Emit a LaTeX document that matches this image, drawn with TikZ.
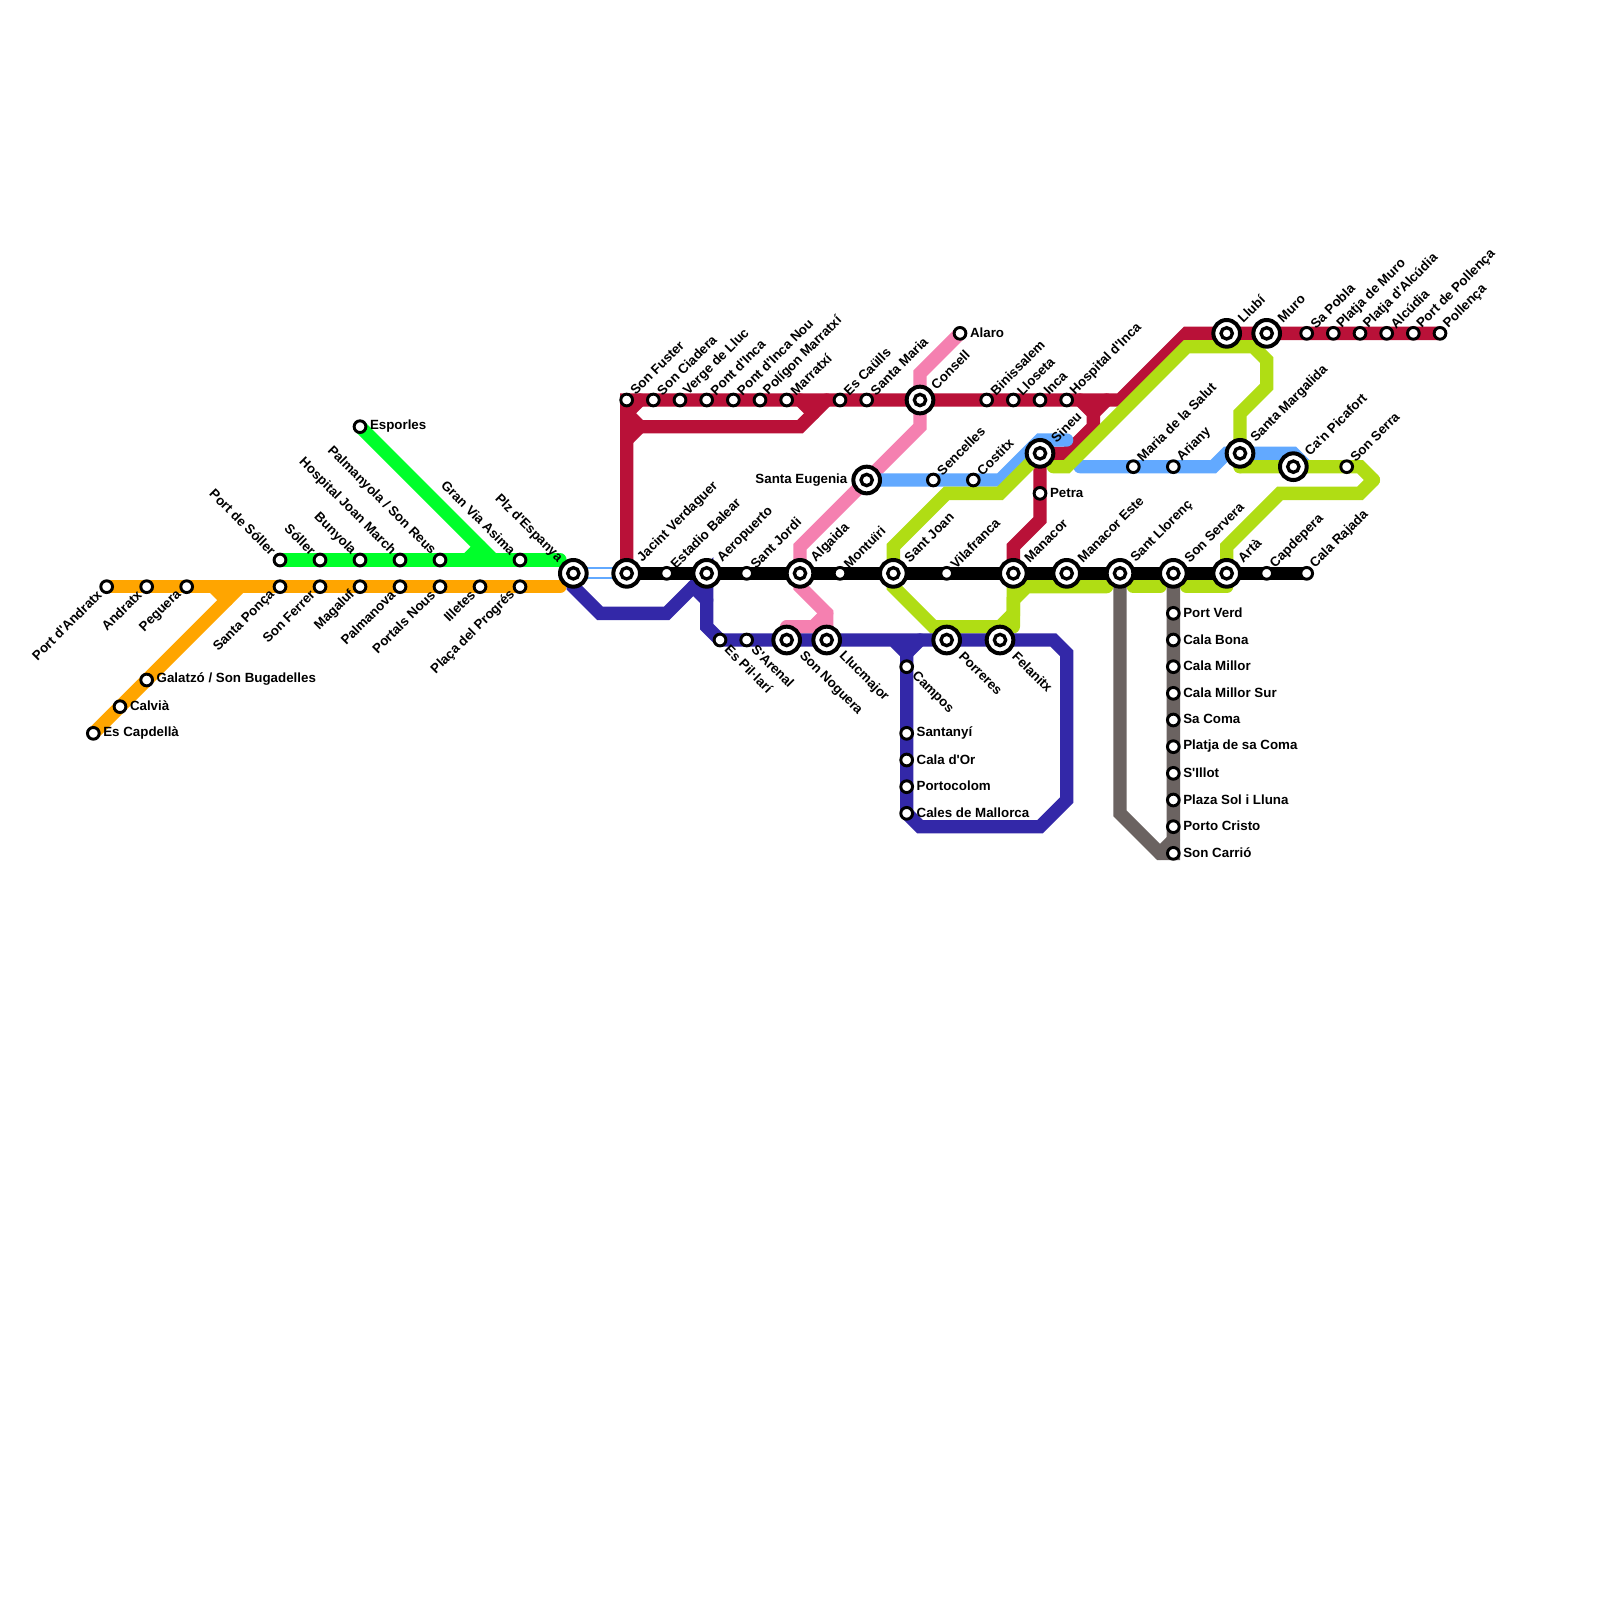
\documentclass[tikz,border=0pt]{standalone}
\usepackage{fontspec}
\newfontfamily\mapf{Liberation Sans}
\pgfdeclarelayer{bg}
\pgfsetlayers{bg,main}
\tikzset{
  stn/.style={circle,draw=black,fill=white,line width=2.2pt,minimum size=8.8pt,inner sep=0pt,outer sep=0pt},
  bigr/.style={circle,draw=black,fill=white,line width=3pt,minimum size=20pt,inner sep=0pt,outer sep=0pt},
  bigc/.style={circle,draw=black,fill=white,line width=2.5pt,minimum size=8.5pt,inner sep=0pt,outer sep=0pt},
  txt/.style={inner sep=0pt,outer sep=0pt,font=\mapf\bfseries\fontsize{10}{11}\selectfont,text=black},
  lne/.style={shift={(0.45,-0.55)},rotate=45,anchor=west},
  lnw/.style={shift={(-0.5,-0.55)},rotate=-45,anchor=east},
  lse/.style={shift={(0.55,0.55)},rotate=-45,anchor=west},
  lsw/.style={shift={(-0.55,0.45)},rotate=45,anchor=east},
  lea/.style={shift={(0.75,-0.05)},anchor=west},
  lwe/.style={shift={(-0.8,0)},anchor=east},
  Lne/.style={shift={(1.0,-1.0)},rotate=45,anchor=west},
  Lnw/.style={shift={(-1.0,-1.0)},rotate=-45,anchor=east},
  Lse/.style={shift={(1.1,1.05)},rotate=-45,anchor=west},
  Lwe/.style={shift={(-1.45,0)},anchor=east},
  ln/.style={line width=10pt,line join=miter,miter limit=10,line cap=round},
}
\definecolor{cOrange}{HTML}{FFA500}
\definecolor{cGreen}{HTML}{00FF2A}
\definecolor{cNavy}{HTML}{3328A8}
\definecolor{cRed}{HTML}{B91138}
\definecolor{cOlive}{HTML}{B0DD14}
\definecolor{cPink}{HTML}{F580B0}
\definecolor{cSky}{HTML}{62A9FF}
\definecolor{cGrey}{HTML}{6B6361}
\newcommand{\ST}[5]{\node[stn] (#1) at (#2,#3) {}; \node[txt,#4] (#1-t) at (#1) {#5};}
\newcommand{\IC}[5]{\node[bigr] (#1) at (#2,#3) {}; \node[bigc] (#1-c) at (#1) {}; \node[txt,#4] (#1-t) at (#1) {#5};}
\begin{document}
\begin{tikzpicture}[x=10pt,y=-10pt]
\useasboundingbox (0,0) rectangle (120,120);
% west: orange
\ST{pand}{8}{44}{lsw}{Port d'Andratx}
\ST{andr}{11}{44}{lsw}{Andratx}
\ST{pegu}{14}{44}{lsw}{Peguera}
\ST{spon}{21}{44}{lsw}{Santa Ponça}
\ST{sfer}{24}{44}{lsw}{Son Ferrer}
\ST{maga}{27}{44}{lsw}{Magaluf}
\ST{pnov}{30}{44}{lsw}{Palmanova}
\ST{pnou}{33}{44}{lsw}{Portals Nous}
\ST{ille}{36}{44}{lsw}{Illetes}
\ST{prog}{39}{44}{lsw}{Plaça del Progrés}
\ST{gala}{11}{51}{lea}{Galatzó / Son Bugadelles}
\ST{calv}{9}{53}{lea}{Calvià}
\ST{capd}{7}{55}{lea}{Es Capdellà}
% west: green
\ST{psol}{21}{42}{lnw}{Port de Sóller}
\ST{soll}{24}{42}{lnw}{Sóller}
\ST{buny}{27}{42}{lnw}{Bunyola}
\ST{hjma}{30}{42}{lnw}{Hospital Joan March}
\ST{palm}{33}{42}{lnw}{Palmanyola / Son Reus}
\ST{gvia}{39}{42}{lnw}{Gran Via Asima}
\ST{espo}{27}{32}{lea}{Esporles}
\IC{plz}{43}{43}{Lnw}{Plz d'Espanya}
% red top
\ST{sfus}{47}{30}{lne}{Son Fuster}
\ST{scia}{49}{30}{lne}{Son Ciadera}
\ST{vllu}{51}{30}{lne}{Verge de Lluc}
\ST{pinc}{53}{30}{lne}{Pont d'Inca}
\ST{pnin}{55}{30}{lne}{Pont d'Inca Nou}
\ST{pmar}{57}{30}{lne}{Polígon Marratxí}
\ST{marr}{59}{30}{lne}{Marratxí}
\ST{ecau}{63}{30}{lne}{Es Caülls}
\ST{smar}{65}{30}{lne}{Santa Maria}
\IC{cons}{69}{30}{Lne}{Consell}
\ST{bini}{74}{30}{lne}{Binissalem}
\ST{llos}{76}{30}{lne}{Lloseta}
\ST{inca}{78}{30}{lne}{Inca}
\ST{hinc}{80}{30}{lne}{Hospital d'Inca}
\ST{alar}{72}{25}{lea}{Alaro}
\IC{seug}{65}{36}{Lwe}{Santa Eugenia}
\ST{senc}{70}{36}{lne}{Sencelles}
\ST{cost}{73}{36}{lne}{Costitx}
\IC{sine}{78}{34}{Lne}{Sineu}
\ST{petr}{78}{37}{lea}{Petra}
\ST{msal}{85}{35}{lne}{Maria de la Salut}
\ST{aria}{88}{35}{lne}{Ariany}
\IC{smag}{93}{34}{Lne}{Santa Margalida}
\IC{cpic}{97}{35}{Lne}{Ca'n Picafort}
\ST{sser}{101}{35}{lne}{Son Serra}
\IC{llub}{92}{25}{Lne}{Llubí}
\IC{muro}{95}{25}{Lne}{Muro}
\ST{spob}{98}{25}{lne}{Sa Pobla}
\ST{pmur}{100}{25}{lne}{Platja de Muro}
\ST{palc}{102}{25}{lne}{Platja d'Alcúdia}
\ST{alcu}{104}{25}{lne}{Alcúdia}
\ST{ppol}{106}{25}{lne}{Port de Pollença}
\ST{poll}{108}{25}{lne}{Pollença}
% main line
\IC{jver}{47}{43}{Lne}{Jacint Verdaguer}
\ST{ebal}{50}{43}{lne}{Estadio Balear}
\IC{aero}{53}{43}{Lne}{Aeropuerto}
\ST{sjor}{56}{43}{lne}{Sant Jordi}
\IC{alga}{60}{43}{Lne}{Algaida}
\ST{mont}{63}{43}{lne}{Montuïri}
\IC{sjoa}{67}{43}{Lne}{Sant Joan}
\ST{vila}{71}{43}{lne}{Vilafranca}
\IC{mana}{76}{43}{Lne}{Manacor}
\IC{maes}{80}{43}{Lne}{Manacor Este}
\IC{sllo}{84}{43}{Lne}{Sant Llorenç}
\IC{sose}{88}{43}{Lne}{Son Servera}
\IC{arta}{92}{43}{Lne}{Artà}
\ST{capr}{95}{43}{lne}{Capdepera}
\ST{craj}{98}{43}{lne}{Cala Rajada}
% south
\ST{epil}{54}{48}{lse}{Es Pil·larí}
\ST{sare}{56}{48}{lse}{S'Arenal}
\IC{snog}{59}{48}{Lse}{Son Noguera}
\IC{lluc}{62}{48}{Lse}{Llucmajor}
\IC{porr}{71}{48}{Lse}{Porreres}
\IC{fela}{75}{48}{Lse}{Felanitx}
\ST{camp}{68}{50}{lse}{Campos}
\ST{sany}{68}{55}{lea}{Santanyí}
\ST{cdor}{68}{57}{lea}{Cala d'Or}
\ST{pcol}{68}{59}{lea}{Portocolom}
\ST{cmal}{68}{61}{lea}{Cales de Mallorca}
\ST{pver}{88}{46}{lea}{Port Verd}
\ST{cbon}{88}{48}{lea}{Cala Bona}
\ST{cmil}{88}{50}{lea}{Cala Millor}
\ST{cmsu}{88}{52}{lea}{Cala Millor Sur}
\ST{scom}{88}{54}{lea}{Sa Coma}
\ST{plsc}{88}{56}{lea}{Platja de sa Coma}
\ST{sill}{88}{58}{lea}{S'Illot}
\ST{psol2}{88}{60}{lea}{Plaza Sol i Lluna}
\ST{pcri}{88}{62}{lea}{Porto Cristo}
\ST{scar}{88}{64}{lea}{Son Carrió}
\begin{pgfonlayer}{bg}
\fill[white] (0,0) rectangle (120,120);
% pink
\draw[ln,cPink] (alar.center) -- (69,28) -- (cons.center) -- (69,32) -- (seug.center) -- (60,41) -- (alga.center) -- (60,44) -- (62,46) -- (lluc.center);
\draw[ln,cPink] (59,47) -- (61,47) -- (62,46);
% red
\draw[ln,cRed] (jver.center) -- (sfus.center) -- (84,30) -- (89,25) -- (poll.center);
\draw[ln,cRed] (48,30) -- (47,31);
\draw[ln,cRed] (47,31) -- (48,32) -- (60,32) -- (62,30);
\draw[ln,cRed] (47,33) -- (48,32);
\draw[ln,cRed] (60,30) -- (61,31);
\draw[ln,cRed] (81,30) -- (82,31) -- (82,32) -- (80,34) -- (sine.center);
\draw[ln,cRed] (sine.center) -- (petr.center) -- (78,39) -- (76,41) -- (mana.center);
\draw[ln,cRed] (83,30) -- (82,31);
% sky
\draw[ln,cSky] (seug.center) -- (75,36) -- (78,33) -- (80,33);
\draw[ln,cSky] (81,35) -- (91,35) -- (92,34) -- (97,34) -- (98,35);
% olive
\draw[ln,cOlive] (sine.center) -- (75,37) -- (71,37) -- (67,41) -- (sjoa.center) -- (67,44) -- (70,47) -- (75,47) -- (76,46) -- (mana.center);
\draw[ln,cOlive] (76,47) -- (76,45) -- (77,44) -- (83,44);
\draw[ln,cOlive] (85,44) -- (87,44);
\draw[ln,cOlive] (89,44) -- (92,44);
\draw[ln,cOlive] (arta.center) -- (92,41) -- (96,37) -- (102,37) -- (103,36);
\draw[ln,cOlive] (103,36) -- (102,35) -- (93,35);
\draw[ln,cOlive] (93,35) -- (smag.center) -- (93,31) -- (95,29) -- (95,27) -- (94,26) -- (89,26) -- (80,35) -- (79,35);
% orange
\draw[ln,cOrange] (pand.center) -- (42,44);
\draw[ln,cOrange] (capd.center) -- (18,44);
\draw[ln,cOrange] (16,44) -- (17,45);
% green
\draw[ln,cGreen] (psol.center) -- (42,42);
\draw[ln,cGreen] (espo.center) -- (37,42);
\draw[ln,cGreen] (35,42) -- (36,41);
% navy
\draw[ln,cNavy] (plz.center) -- (43,44) -- (45,46) -- (50,46) -- (aero.center) -- (53,47) -- (epil.center) -- (79,48) -- (80,49) -- (80,60) -- (78,62) -- (69,62) -- (cmal.center) -- (68,49) -- (67,48);
\draw[ln,cNavy] (69,48) -- (68,49);
\draw[ln,cNavy] (52,44) -- (53,45);
% grey
\draw[ln,cGrey,line cap=rect] (sllo.center) -- (84,61) -- (87,64) -- (scar.center) -- (sose.center);
\draw[ln,cGrey] (87,64) -- (88,63);
% transfer
\draw[line width=9pt,cSky] (plz.center) -- (jver.center);
\draw[line width=6pt,white] (plz.center) -- (jver.center);
% black
\draw[ln,black] (jver.center) -- (craj.center);
\end{pgfonlayer}
\end{tikzpicture}
\end{document}
